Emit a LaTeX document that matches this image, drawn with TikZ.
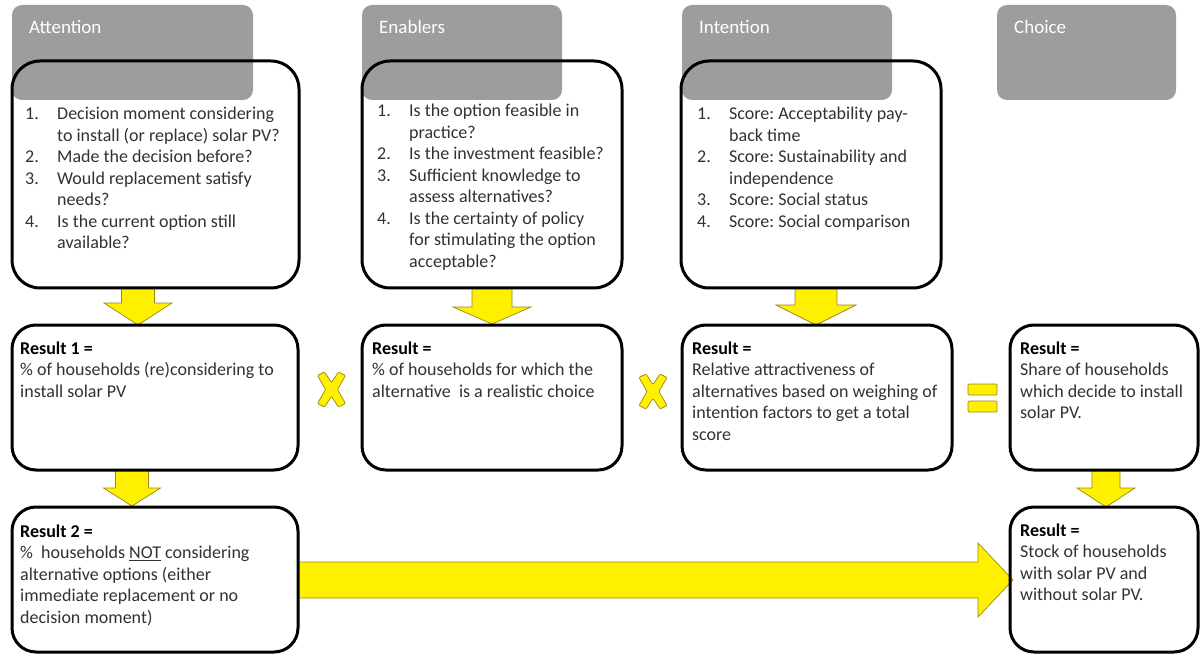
\documentclass[tikz,border=0pt]{standalone}
\usepackage{fontspec}
\setmainfont{Carlito}
\usepackage{array}
\frenchspacing
\definecolor{hdrgray}{RGB}{157,157,157}
\definecolor{bodytxt}{RGB}{50,50,50}
\definecolor{yfill}{RGB}{255,240,0}
\definecolor{yedge}{RGB}{150,140,20}
\tikzset{
  hdrbox/.style={fill=hdrgray, draw=none, rounded corners=10pt},
  mainbox/.style={draw=black, line width=3pt, rounded corners=28pt},
  resbox/.style={draw=black, line width=3pt, rounded corners=24pt},
  yarrow/.style={fill=yfill, draw=yedge, line width=0.7pt, line join=miter},
  ysym/.style={fill=yfill, draw=yedge, line width=0.7pt, rounded corners=1pt},
  txt/.style={inner sep=0pt, anchor=base west, text=bodytxt, font=\fontsize{18}{21.5}\selectfont},
  hdrtxt/.style={inner sep=0pt, anchor=base west, text=white, font=\fontsize{19}{22}\selectfont}
}
\newcommand\dnarrow[6]{%
  \draw[yarrow] ({#1-#5},#2) -- ({#1+#5},#2) -- ({#1+#5},#3) -- ({#1+#6},#3) -- (#1,#4) -- ({#1-#6},#3) -- ({#1-#5},#3) -- cycle;}
\newcommand\xsym[2]{%
  \draw[ysym] ({#1-14},{#2-14}) -- ({#1-7},{#2-17.5}) -- (#1,{#2-7}) -- ({#1+7},{#2-17.5}) -- ({#1+14},{#2-14}) -- ({#1+6},#2) -- ({#1+14},{#2+14}) -- ({#1+7},{#2+17.5}) -- (#1,{#2+7}) -- ({#1-7},{#2+17.5}) -- ({#1-14},{#2+14}) -- ({#1-6},#2) -- cycle;}
\newcommand\rb[1]{\textcolor{black}{\textbf{#1}}}
\begin{document}
\begin{tikzpicture}[x=1pt,y=-1pt]
\useasboundingbox (0,0) rectangle (1200,655);
\fill[white] (0,0) rectangle (1200,655);
% header boxes
\draw[hdrbox] (12,5) rectangle (253,100);
\draw[hdrbox] (362,5) rectangle (562,100);
\draw[hdrbox] (682,5) rectangle (892,100);
\draw[hdrbox] (997,5) rectangle (1176,100);
\node[hdrtxt] (h1) at (29,34) {Attention};
\node[hdrtxt] (h2) at (379,34) {Enablers};
\node[hdrtxt] (h3) at (699,34) {Intention};
\node[hdrtxt] (h4) at (1014,34) {Choice};
% arrows
\dnarrow{138}{288}{303}{325}{16.5}{34}
\dnarrow{492}{288}{307}{324}{20}{39}
\dnarrow{816}{288}{305}{325}{21}{40}
\dnarrow{132}{470}{488}{506}{16.5}{28.5}
\dnarrow{1106}{470}{488}{507}{14}{29}
\draw[yarrow] (298,562) -- (978,562) -- (978,543) -- (1013,580) -- (978,617) -- (978,598) -- (298,598) -- cycle;
% symbols
\xsym{331.5}{389.5}
\xsym{653}{391.5}
\draw[ysym] (968,384) rectangle (997,395);
\draw[ysym] (968,401) rectangle (997,412);
% top boxes
\draw[mainbox] (12,61) rectangle (299,288);
\draw[mainbox] (362,61) rectangle (622,288);
\draw[mainbox] (681,61) rectangle (941,288);
% result boxes
\draw[resbox] (12,325) rectangle (298,470);
\draw[resbox] (362,325) rectangle (622,470);
\draw[resbox] (682,325) rectangle (952,470);
\draw[resbox] (1010,325) rectangle (1198,470);
\draw[resbox] (12,507) rectangle (298,652);
\draw[resbox] (1010,507) rectangle (1198,652);
% texts
\node[txt] (t1) at (25,120) {\begin{tabular}[t]{@{}p{32pt}@{}l@{}}
1.&Decision moment considering\\
&to install (or replace) solar PV?\\
2.&Made the decision before?\\
3.&Would replacement satisfy\\
&needs?\\
4.&Is the current option still\\
&available?
\end{tabular}};
\node[txt] (t2) at (377,117) {\begin{tabular}[t]{@{}p{32pt}@{}l@{}}
1.&Is the option feasible in\\
&practice?\\
2.&Is the investment feasible?\\
3.&Sufficient knowledge to\\
&assess alternatives?\\
4.&Is the certainty of policy\\
&for stimulating the option\\
&acceptable?
\end{tabular}};
\node[txt] (t3) at (697,120) {\begin{tabular}[t]{@{}p{32pt}@{}l@{}}
1.&Score: Acceptability pay-\\
&back time\\
2.&Score: Sustainability and\\
&independence\\
3.&Score: Social status\\
4.&Score: Social comparison
\end{tabular}};
\node[txt] (t4) at (20,354) {\begin{tabular}[t]{@{}l@{}}
\rb{Result 1 =}\\
\% of households (re)considering to\\
install solar PV
\end{tabular}};
\node[txt] (t5) at (372,354) {\begin{tabular}[t]{@{}l@{}}
\rb{Result =}\\
\% of households for which the\\
alternative\ \ is a realistic choice
\end{tabular}};
\node[txt] (t6) at (692,354) {\begin{tabular}[t]{@{}l@{}}
\rb{Result =}\\
Relative attractiveness of\\
alternatives based on weighing of\\
intention factors to get a total\\
score
\end{tabular}};
\node[txt] (t7) at (1020,354) {\begin{tabular}[t]{@{}l@{}}
\rb{Result =}\\
Share of households\\
which decide to install\\
solar PV.
\end{tabular}};
\node[txt] (t8) at (20,537) {\begin{tabular}[t]{@{}l@{}}
\rb{Result 2 =}\\
\%\ \ households \underline{NOT} considering\\
alternative options (either\\
immediate replacement or no\\
decision moment)
\end{tabular}};
\node[txt] (t9) at (1020,536) {\begin{tabular}[t]{@{}l@{}}
\rb{Result =}\\
Stock of households\\
with solar PV and\\
without solar PV.
\end{tabular}};
\end{tikzpicture}
\end{document}
